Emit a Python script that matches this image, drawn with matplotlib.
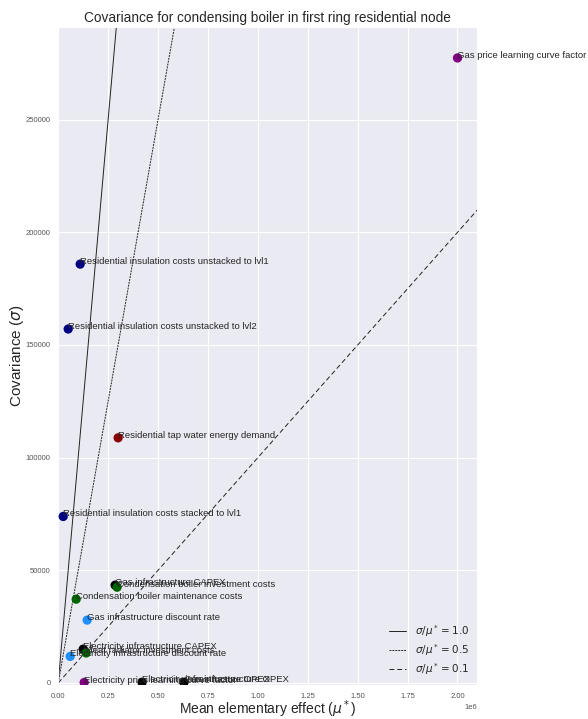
import matplotlib
matplotlib.use('Agg')
import matplotlib.pyplot as plt
import seaborn as sns
import numpy as np

sns.set_style('darkgrid')
plt.rcParams['font.family'] = ['Liberation Sans', 'DejaVu Sans']
plt.rcParams['mathtext.fontset'] = 'dejavusans'

# parameter names, mean elementary effect (mu*), covariance (sigma), colour
names = [
    'Gas price learning curve factor',
    'Residential insulation costs unstacked to lvl1',
    'Residential insulation costs unstacked to lvl2',
    'Residential tap water energy demand',
    'Residential insulation costs stacked to lvl1',
    'Gas infrastructure CAPEX',
    'Condensation boiler investment costs',
    'Condensation boiler maintenance costs',
    'Gas infrastructure discount rate',
    'Electricity infrastructure CAPEX',
    'Heat radiator investment costs',
    'Electricity infrastructure discount rate',
    'Electricity price learning curve factor',
    'Electricity infrastructure OPEX',
    'Gas infrastructure OPEX',
]
mu_star = [2.0e6, 0.11e6, 0.05e6, 0.30e6, 0.025e6, 0.285e6, 0.295e6, 0.09e6,
           0.145e6, 0.125e6, 0.14e6, 0.06e6, 0.13e6, 0.42e6, 0.63e6]
sigma = [277400, 185900, 157100, 108800, 73900, 43400, 42500, 37200,
         27900, 15000, 13300, 11800, 200, 300, 300]
colors = ['purple', 'navy', 'navy', 'darkred', 'navy', 'black', 'darkgreen',
          'darkgreen', 'dodgerblue', 'black', 'darkgreen', 'dodgerblue',
          'purple', 'black', 'black']

ratios = [1.0, 0.5, 0.1]
styles = ['-', (0, (2, 1)), (0, (5, 3))]

fig = plt.figure(figsize=(5.88, 7.19), dpi=100)
ax = fig.add_axes([0.099, 0.047, 0.713, 0.915])

xmax = 2.1e6
ymax = 291000
for r, ls in zip(ratios, styles):
    xs = np.array([0, xmax])
    ax.plot(xs, r * xs, color='#222222', linestyle=ls, linewidth=0.7,
            label=r'$\sigma/\mu^* = %.1f$' % r)

ax.scatter(mu_star, sigma, c=colors, s=32, zorder=3)
for n, x, y in zip(names, mu_star, sigma):
    ax.annotate(n, (x, y), fontsize=6.8, color='#262626', zorder=4)

ax.set_xlim(0, xmax)
ax.set_ylim(-1000, ymax)
ax.tick_params(labelsize=5.5, colors='#555555', pad=2)
ax.xaxis.get_offset_text().set_fontsize(5.5)
ax.ticklabel_format(axis='y', style='plain')
ax.set_xlabel(r'Mean elementary effect ($\mu^*$)', fontsize=10, labelpad=-1)
ax.set_ylabel(r'Covariance ($\sigma$)', fontsize=11, labelpad=0)
ax.set_title('Covariance for condensing boiler in first ring residential node',
             fontsize=9.8, pad=4)
ax.legend(loc='lower right', fontsize=7.5, frameon=False, borderaxespad=0.4,
          labelspacing=0.3, handlelength=1.7)

fig.savefig('out.png', dpi=100)
